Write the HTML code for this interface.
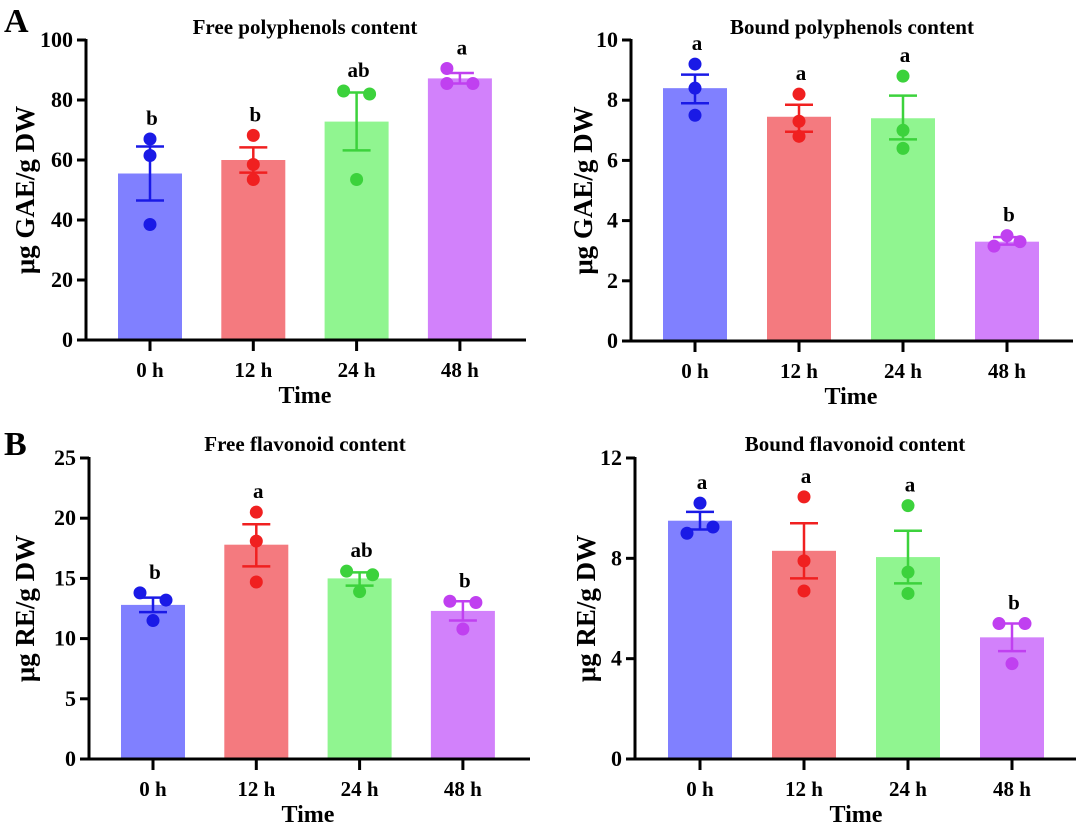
<!DOCTYPE html>
<html><head><meta charset="utf-8">
<style>
html,body{margin:0;padding:0;background:#fff;}
svg{display:block;font-family:"Liberation Serif",serif;font-weight:bold;}
</style></head>
<body>
<svg id="fig" width="1080" height="824" viewBox="0 0 1080 824" xmlns="http://www.w3.org/2000/svg">
<text x="4" y="32" font-size="34">A</text>
<text x="4" y="455" font-size="34">B</text>
</svg>
<script>
const categories = ["0 h","12 h","24 h","48 h"];
const barColors = ["#8080ff","#f47a7f","#90f590","#d281fb"];
const dotColors = ["#1a1ae6","#f02020","#3cd23c","#c040f0"];

const freePolyMeans = [55.5, 60, 72.8, 87.2];
const freePolyErrLo = [46.5, 55.8, 63.2, 85.5];
const freePolyErrHi = [64.5, 64.2, 82.5, 89];
const freePolyPts = [[67,61.5,38.5],[68.2,58.5,53.5],[83,82,53.5],[85.5,90.5,85.5]];
const freePolyJit = [[0,0,0],[0,0,0],[-1,1,0],[-1,-1,1]];
const freePolyLetters = ["b","b","ab","a"];
const freePolyTicks = [0,20,40,60,80,100];

const boundPolyMeans = [8.4, 7.45, 7.4, 3.3];
const boundPolyErrLo = [7.9, 6.95, 6.7, 3.2];
const boundPolyErrHi = [8.85, 7.85, 8.15, 3.45];
const boundPolyPts = [[9.2,8.4,7.5],[8.2,7.3,6.8],[8.8,7.0,6.4],[3.15,3.5,3.3]];
const boundPolyJit = [[0,0,0],[0,0,0],[0,0,0],[-1,0,1]];
const boundPolyLetters = ["a","a","a","b"];
const boundPolyTicks = [0,2,4,6,8,10];

const freeFlavMeans = [12.8, 17.8, 15.0, 12.3];
const freeFlavErrLo = [12.2, 16.0, 14.4, 11.5];
const freeFlavErrHi = [13.4, 19.5, 15.5, 13.1];
const freeFlavPts = [[13.8,13.2,11.5],[20.5,18.1,14.7],[15.6,15.3,13.9],[13.1,13.0,10.8]];
const freeFlavJit = [[-1,1,0],[0,0,0],[-1,1,0],[-1,1,0]];
const freeFlavLetters = ["b","a","ab","b"];
const freeFlavTicks = [0,5,10,15,20,25];

const boundFlavMeans = [9.5, 8.3, 8.05, 4.85];
const boundFlavErrLo = [9.15, 7.2, 7.0, 4.3];
const boundFlavErrHi = [9.85, 9.4, 9.1, 5.4];
const boundFlavPts = [[10.2,9.0,9.25],[10.45,7.9,6.7],[10.1,7.45,6.6],[5.4,5.4,3.8]];
const boundFlavJit = [[0,-1,1],[0,0,0],[0,0,0],[-1,1,0]];
const boundFlavLetters = ["a","a","a","b"];
const boundFlavTicks = [0,4,8,12];

const NS="http://www.w3.org/2000/svg";
const svg=document.getElementById("fig");
function mk(tag,attrs,parent){const e=document.createElementNS(NS,tag);for(const k in attrs)e.setAttribute(k,attrs[k]);(parent||svg).appendChild(e);return e;}

function panel(o){
  const g=mk("g",{});
  
  
  const ymax=o.ticks[o.ticks.length-1];
  const yS=v=>o.y0-(v/ymax)*(o.y0-o.yTop);
  const xS=i=>o.x1+i*o.step;
  o.means.forEach((m,i)=>{
    const r=mk("rect",{x:xS(i)-32,y:yS(m),width:64,height:o.y0-yS(m),fill:barColors[i]},g);
    
    
  });
  const ya=mk("line",{x1:o.ax,y1:o.yTop-1,x2:o.ax,y2:o.y0+1.5,stroke:"#000","stroke-width":3},g);
  
  
  const xa=mk("line",{x1:o.ax-1.5,y1:o.y0,x2:o.xEnd,y2:o.y0,stroke:"#000","stroke-width":3},g);
  
  
  o.ticks.forEach(t=>{
    mk("line",{x1:o.ax-9,y1:yS(t),x2:o.ax,y2:yS(t),stroke:"#000","stroke-width":3},g);
    const tl=mk("text",{x:o.ax-13,y:yS(t)+7,"font-size":22,"text-anchor":"end"},g);
    tl.textContent=t;
    
    
  });
  categories.forEach((c,i)=>{
    mk("line",{x1:xS(i),y1:o.y0,x2:xS(i),y2:o.y0+11,stroke:"#000","stroke-width":3},g);
    const tl=mk("text",{x:xS(i),y:o.y0+37,"font-size":21,"text-anchor":"middle"},g);
    tl.textContent=c;
    
    
  });
  o.means.forEach((m,i)=>{
    const c=dotColors[i],x=xS(i);
    mk("line",{x1:x,y1:yS(o.lo[i]),x2:x,y2:yS(o.hi[i]),stroke:c,"stroke-width":2.5},g);
    [o.lo[i],o.hi[i]].forEach(v=>mk("line",{x1:x-14,y1:yS(v),x2:x+14,y2:yS(v),stroke:c,"stroke-width":2.5},g));
    let top=yS(o.hi[i]);
    o.pts[i].forEach((p,j)=>{
      const d=mk("circle",{cx:x+o.jit[i][j]*13,cy:yS(p),r:6.5,fill:c},g);
      
      
      top=Math.min(top,yS(p));
    });
    const lt=mk("text",{x:x+2,y:top-14,"font-size":21,"text-anchor":"middle"},g);
    lt.textContent=o.letters[i];
    
    
  });
  const tt=mk("text",{x:o.titleX,y:o.titleY,"font-size":21,"text-anchor":"middle"},g);
  tt.textContent=o.title;
  
  
  const yt=mk("text",{x:0,y:0,"font-size":27,"text-anchor":"middle",transform:`translate(${o.ytX},${(o.y0+o.yTop)/2}) rotate(-90)`},g);
  yt.textContent=o.ytitle;
  
  
  const xt=mk("text",{x:(o.x1+xS(3))/2,y:o.y0+63,"font-size":24,"text-anchor":"middle"},g);
  xt.textContent="Time";
  
  
}

panel({name:"free-polyphenols-chart",ax:86,x1:150,step:103.3,xEnd:526,y0:340,yTop:40,ticks:freePolyTicks,means:freePolyMeans,lo:freePolyErrLo,hi:freePolyErrHi,pts:freePolyPts,jit:freePolyJit,letters:freePolyLetters,title:"Free polyphenols content",titleX:305,titleY:34,ytitle:"μg GAE/g  DW",ytX:34});
panel({name:"bound-polyphenols-chart",ax:631,x1:695,step:104,xEnd:1073,y0:341,yTop:40,ticks:boundPolyTicks,means:boundPolyMeans,lo:boundPolyErrLo,hi:boundPolyErrHi,pts:boundPolyPts,jit:boundPolyJit,letters:boundPolyLetters,title:"Bound polyphenols content",titleX:852,titleY:34,ytitle:"μg GAE/g  DW",ytX:592});
panel({name:"free-flavonoid-chart",ax:89,x1:153,step:103.3,xEnd:530,y0:759,yTop:458,ticks:freeFlavTicks,means:freeFlavMeans,lo:freeFlavErrLo,hi:freeFlavErrHi,pts:freeFlavPts,jit:freeFlavJit,letters:freeFlavLetters,title:"Free flavonoid content",titleX:305,titleY:451,ytitle:"μg RE/g  DW",ytX:34});
panel({name:"bound-flavonoid-chart",ax:635,x1:700,step:104,xEnd:1076,y0:759,yTop:458,ticks:boundFlavTicks,means:boundFlavMeans,lo:boundFlavErrLo,hi:boundFlavErrHi,pts:boundFlavPts,jit:boundFlavJit,letters:boundFlavLetters,title:"Bound flavonoid content",titleX:855,titleY:451,ytitle:"μg RE/g  DW",ytX:595});
</script>
</body></html>
